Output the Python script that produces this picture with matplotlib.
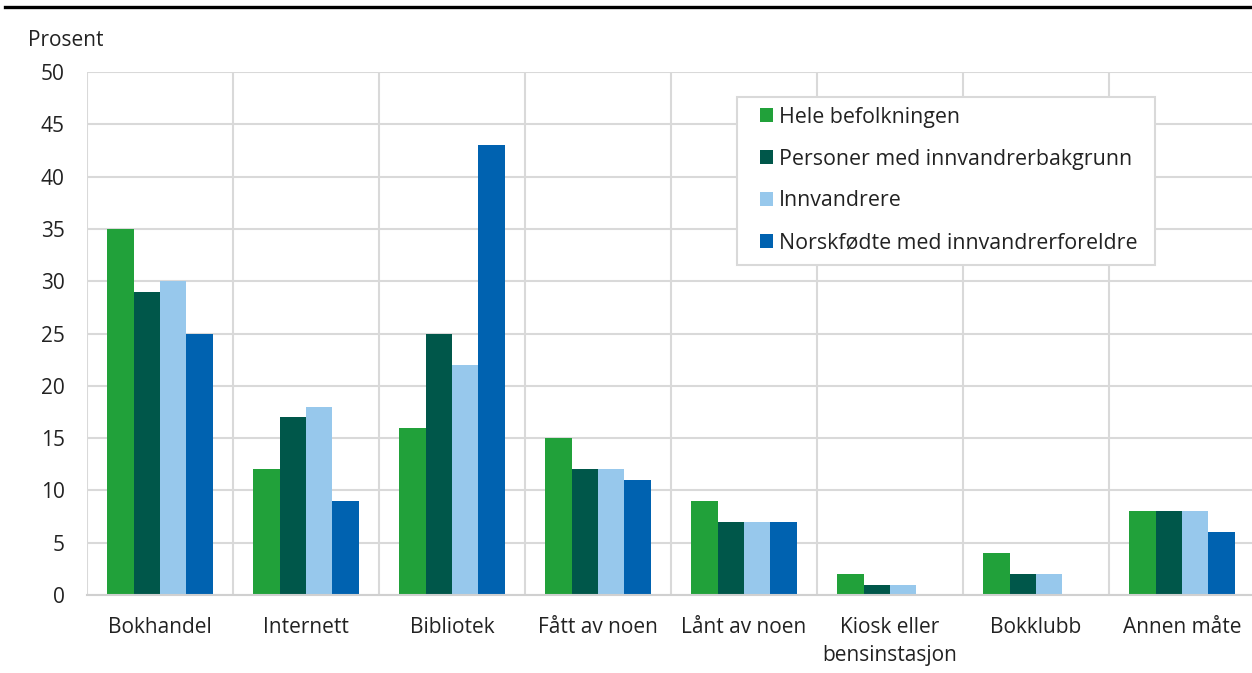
import matplotlib
matplotlib.use("Agg")
import matplotlib.pyplot as plt
from matplotlib.lines import Line2D
from matplotlib.patches import Rectangle
import numpy as np

plt.rcParams['font.family'] = ['Open Sans', 'DejaVu Sans']

categories = ["Bokhandel", "Internett", "Bibliotek", "Fått av noen", "Lånt av noen",
              "Kiosk eller\nbensinstasjon", "Bokklubb", "Annen måte"]
series_names = ["Hele befolkningen", "Personer med innvandrerbakgrunn",
                "Innvandrere", "Norskfødte med innvandrerforeldre"]
hele = [35, 12, 16, 15, 9, 2, 4, 8]
bakgrunn = [29, 17, 25, 12, 7, 1, 2, 8]
innvandrere = [30, 18, 22, 12, 7, 1, 2, 8]
norskfodte = [25, 9, 43, 11, 7, 0, 0, 6]
colors = ["#21a13a", "#00574a", "#97c8ec", "#0062b0"]

W, H = 1252, 673
FS = 15
fig = plt.figure(figsize=(W/100, H/100), dpi=100)
ax = fig.add_axes([87/W, 78/H, 1168/W, 523/H])

x = np.arange(len(categories))
bw = 0.18
data = [hele, bakgrunn, innvandrere, norskfodte]
handles = []
for i, (vals, name, c) in enumerate(zip(data, series_names, colors)):
    b = ax.bar(x + (i - 1.5) * bw, vals, width=bw, color=c, label=name, zorder=3)
    handles.append(b)

ax.set_xlim(-0.5, len(categories) - 0.5)
ax.set_ylim(0, 50)
ax.set_yticks(range(0, 51, 5))
ax.set_xticks(x)
ax.set_xticklabels(categories, fontsize=FS, color="#222222", linespacing=1.45)
ax.set_xticks(np.arange(-0.5, len(categories), 1), minor=True)
ax.tick_params(axis='both', which='both', length=0)
ax.tick_params(axis='y', labelsize=FS, labelcolor="#222222", pad=16)
ax.tick_params(axis='x', pad=16)

ax.grid(axis='y', which='major', color="#d9d9d9", linewidth=1.5, zorder=0)
ax.grid(axis='x', which='minor', color="#d9d9d9", linewidth=1.5, zorder=0)
ax.grid(axis='x', which='major', visible=False)
for s in ['top', 'right', 'left']:
    ax.spines[s].set_visible(False)
ax.spines['bottom'].set_color("#d0d0d0")
ax.spines['bottom'].set_linewidth(1.5)
ax.spines['bottom'].set_zorder(4)

fig.text(28/W, 1 - 40/H, "Prosent", fontsize=FS, color="#222222", va='center', ha='left')

fig.add_artist(Line2D([5/W, 1.0], [1 - 6.5/H, 1 - 6.5/H], color="black", linewidth=2.4,
                      transform=fig.transFigure))

# legend frame
fig.add_artist(Rectangle((737/W, 1 - 265/H), (1155 - 737)/W, (265 - 97)/H,
                         transform=fig.transFigure, facecolor="white",
                         edgecolor="#d9d9d9", linewidth=1.5, zorder=5))
leg = fig.legend(handles, series_names, loc='center left',
                 bbox_to_anchor=(760/W, 1 - 180/H),
                 bbox_transform=fig.transFigure, borderaxespad=0, borderpad=0,
                 fontsize=15.4, handlelength=0.6, handleheight=0.6,
                 handletextpad=0.3, labelspacing=0.98, frameon=False)
leg.set_zorder(6)
for t in leg.get_texts():
    t.set_color("#222222")

fig.savefig("out.png", dpi=100)
